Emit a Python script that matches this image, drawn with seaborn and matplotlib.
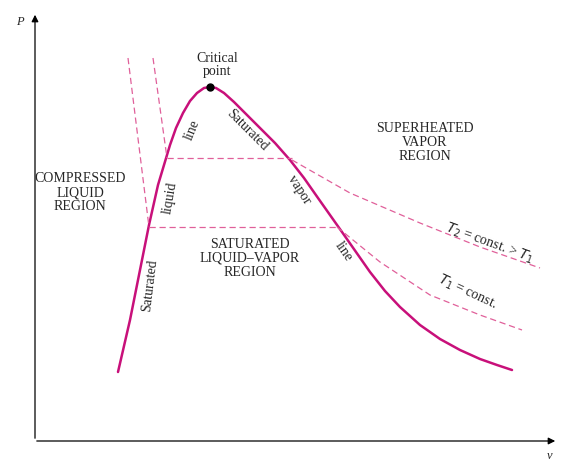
import matplotlib
matplotlib.use("Agg")
import matplotlib.pyplot as plt
import seaborn as sns
import pandas as pd

sns.set_style("white")
plt.rcParams['font.family'] = ['Liberation Serif', 'DejaVu Serif']

dome_x = [118,130,140,149,158,164,170,176,183,190,197,204,210,216,224,234,246,260,275,290,304,318,330,342,356,370,385,400,420,440,460,480,497,512]
dome_y = [372,320,270,225,185,165,145,128,113,101,93,88,87,88,93,102,114,128,143,160,178,198,215,232,252,272,291,307,325,339,350,359,365,370]
t2_liq_x = [153,167]; t2_liq_y = [58,158]
t2_sat_x = [167,292]; t2_sat_y = [158,158]
t2_vap_x = [292,350,420,480,540]; t2_vap_y = [160,193,223,247,268]
t1_liq_x = [128,149]; t1_liq_y = [58,227]
t1_sat_x = [149,337]; t1_sat_y = [227,227]
t1_vap_x = [337,380,430,480,522]; t1_vap_y = [227,262,295,315,330]

col = "#c8107a"; dcol = "#e0609a"
fig = plt.figure(figsize=(5.8,4.69), dpi=100)
ax = fig.add_axes([0,0,1,1])
ax.set_xlim(0,580); ax.set_ylim(469,0); ax.axis("off")

sns.lineplot(x=dome_x, y=dome_y, sort=False, color=col, lw=1.8, ax=ax)
for xs, ys in [(t2_liq_x,t2_liq_y),(t2_sat_x,t2_sat_y),(t2_vap_x,t2_vap_y),
               (t1_liq_x,t1_liq_y),(t1_sat_x,t1_sat_y),(t1_vap_x,t1_vap_y)]:
    sns.lineplot(x=xs, y=ys, sort=False, color=dcol, lw=0.9, ls=(0,(5,3)), ax=ax)
ax.plot([210],[87], 'o', color='black', ms=5)

ax.annotate("", xy=(35,12), xytext=(35,441), arrowprops=dict(arrowstyle="-|>", color="black", lw=0.9))
ax.annotate("", xy=(558,441), xytext=(34,441), arrowprops=dict(arrowstyle="-|>", color="black", lw=0.9))
ax.text(20,22,"P", style='italic', fontsize=9, ha='center', va='center')
ax.text(550,456,"v", style='italic', fontsize=9, ha='center', va='center')

fs = 10
ax.text(217,65,"Critical\npoint", fontsize=fs, ha='center', va='center', linespacing=1.0)
ax.text(425,142,"SUPERHEATED\nVAPOR\nREGION", fontsize=fs, ha='center', va='center', linespacing=1.1)
ax.text(80,193,"COMPRESSED\nLIQUID\nREGION", fontsize=fs, ha='center', va='center', linespacing=1.1)
ax.text(250,258,"SATURATED\nLIQUID–VAPOR\nREGION", fontsize=fs, ha='center', va='center', linespacing=1.1)
ax.text(150,285,"Saturated", fontsize=fs, ha='center', va='center', rotation=83)
ax.text(170,198,"liquid", fontsize=fs, ha='center', va='center', rotation=80)
ax.text(192,130,"line", fontsize=fs, ha='center', va='center', rotation=68)
ax.text(247,130,"Saturated", fontsize=fs, ha='center', va='center', rotation=-45)
ax.text(299,190,"vapor", fontsize=fs, ha='center', va='center', rotation=-57)
ax.text(344,252,"line", fontsize=fs, ha='center', va='center', rotation=-55)
ax.text(490,243,"$T_2$ = const. > $T_1$", fontsize=fs, ha='center', va='center', rotation=-20)
ax.text(467,292,"$T_1$ = const.", fontsize=fs, ha='center', va='center', rotation=-25)
fig.savefig("out.png", dpi=100)
